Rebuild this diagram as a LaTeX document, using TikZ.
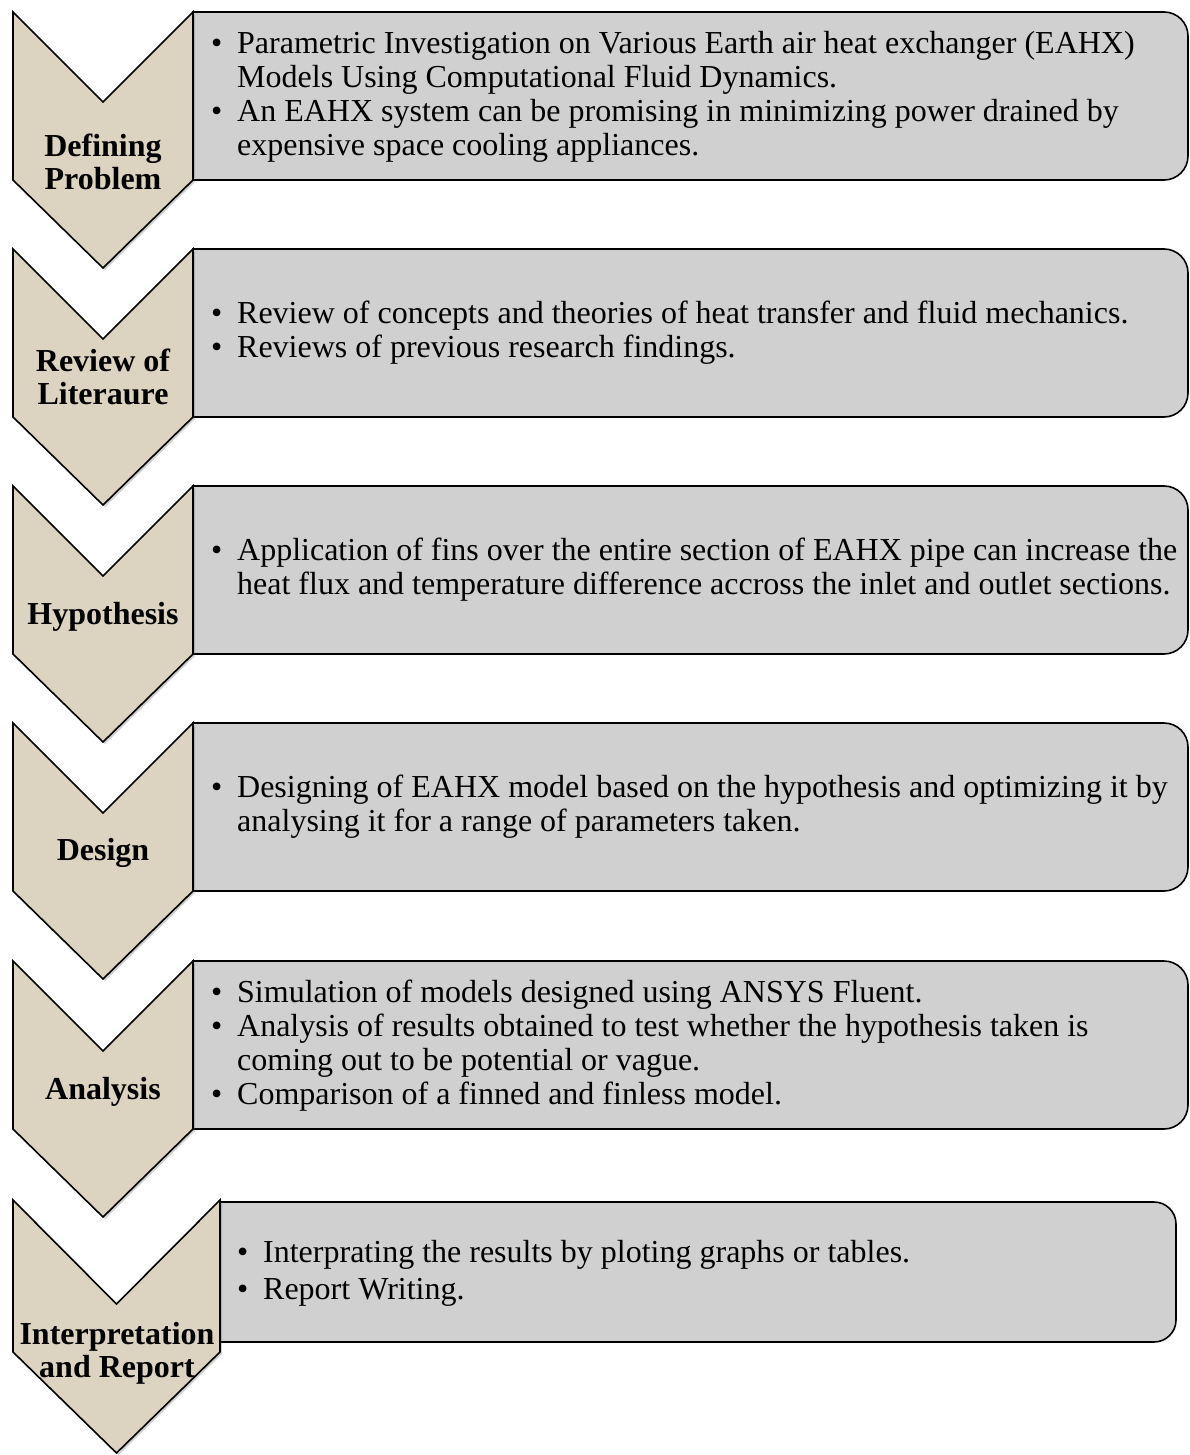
\documentclass[tikz,border=0pt]{standalone}
\usepackage{fontspec}
\setmainfont{Liberation Serif}
\usepackage{tikz}
\usetikzlibrary{shadows}

\definecolor{linen}{RGB}{220,211,192}
\definecolor{boxgray}{RGB}{208,208,208}
\newcommand{\itm}{\makebox[26pt][l]{\textbullet}}
\newcommand{\cnt}{\hspace*{26pt}}

\begin{document}
\begin{tikzpicture}[x=1pt, y=-1pt,
  chevron/.style={draw=black, line width=1.6pt, fill=linen, line join=miter,
                  drop shadow={shadow xshift=2pt, shadow yshift=-2pt,
                               opacity=.3, fill=black!60}},
  infobox/.style={draw=black, line width=1.6pt, fill=boxgray},
  stage/.style={font=\fontsize{32}{33}\selectfont\bfseries, align=center,
                inner sep=0pt},
  items/.style={font=\fontsize{32}{34}\selectfont, align=left,
                anchor=west, inner sep=0pt}
]
\useasboundingbox (0,0) rectangle (1190,1455);

% boxes (square on the left, rounded on the right)
\draw[infobox] (193,12) -- (1164,12) arc[start angle=270, end angle=360, radius=24]
  -- (1188,156) arc[start angle=0, end angle=90, radius=24] -- (193,180) -- cycle;
\draw[infobox] (193,249) -- (1164,249) arc[start angle=270, end angle=360, radius=24]
  -- (1188,393) arc[start angle=0, end angle=90, radius=24] -- (193,417) -- cycle;
\draw[infobox] (193,486) -- (1164,486) arc[start angle=270, end angle=360, radius=24]
  -- (1188,630) arc[start angle=0, end angle=90, radius=24] -- (193,654) -- cycle;
\draw[infobox] (193,723) -- (1164,723) arc[start angle=270, end angle=360, radius=24]
  -- (1188,867) arc[start angle=0, end angle=90, radius=24] -- (193,891) -- cycle;
\draw[infobox] (193,961) -- (1164,961) arc[start angle=270, end angle=360, radius=24]
  -- (1188,1105) arc[start angle=0, end angle=90, radius=24] -- (193,1129) -- cycle;
\draw[infobox] (220,1202) -- (1154,1202) arc[start angle=270, end angle=360, radius=22]
  -- (1176,1320) arc[start angle=0, end angle=90, radius=22] -- (220,1342) -- cycle;

% chevrons
\draw[chevron] (13,12) -- (103,102) -- (193,12) -- (193,180) -- (103,268)
  -- (13,180) -- cycle;
\draw[chevron] (13,249) -- (103,339) -- (193,249) -- (193,417) -- (103,505)
  -- (13,417) -- cycle;
\draw[chevron] (13,486) -- (103,576) -- (193,486) -- (193,654) -- (103,742)
  -- (13,654) -- cycle;
\draw[chevron] (13,723) -- (103,813) -- (193,723) -- (193,891) -- (103,979)
  -- (13,891) -- cycle;
\draw[chevron] (13,961) -- (103,1051) -- (193,961) -- (193,1129) -- (103,1217)
  -- (13,1129) -- cycle;
\draw[chevron] (13,1200) -- (116.5,1304) -- (220,1200) -- (220,1352)
  -- (116.5,1453) -- (13,1352) -- cycle;

% stage labels
\node[stage] (defprob)  at (103,162)  {Defining\\Problem};
\node[stage] (revlit)   at (103,377)  {Review of\\Literaure};
\node[stage] (hyp)      at (103,617)  {Hypothesis};
\node[stage] (design)   at (103,853)  {Design};
\node[stage] (analysis) at (103,1092) {Analysis};
\node[stage] (interp)   at (117,1353) {Interpretation\\and Report};

% box texts
\node[items] (defprobtxt) at (211,97) {%
  \itm Parametric Investigation on Various Earth air heat exchanger (EAHX)\\
  \cnt Models Using Computational Fluid Dynamics.\\
  \itm An EAHX system can be promising in minimizing power drained by\\
  \cnt expensive space cooling appliances.};
\node[items] (revlittxt) at (211,333) {%
  \itm Review of concepts and theories of heat transfer and fluid mechanics.\\
  \itm Reviews of previous research findings.};
\node[items] (hyptxt) at (211,570) {%
  \itm Application of fins over the entire section of EAHX pipe can increase the\\
  \cnt heat flux and temperature difference accross the inlet and outlet sections.};
\node[items] (designtxt) at (211,807) {%
  \itm Designing of EAHX model based on the hypothesis and optimizing it by\\
  \cnt analysing it for a range of parameters taken.};
\node[items] (analysistxt) at (211,1046) {%
  \itm Simulation of models designed using ANSYS Fluent.\\
  \itm Analysis of results obtained to test whether the hypothesis taken is\\
  \cnt coming out to be potential or vague.\\
  \itm Comparison of a finned and finless model.};
\node[items] (interptxt) at (237,1273) {%
  \itm Interprating the results by ploting graphs or tables.\\[3pt]
  \itm Report Writing.};
\end{tikzpicture}
\end{document}
